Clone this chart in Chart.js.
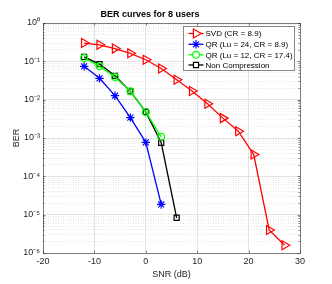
<!DOCTYPE html>
<html>
<head>
<meta charset="utf-8">
<script src="https://cdn.jsdelivr.net/npm/chart.js@4.4.1/dist/chart.umd.min.js"></script>
<style>
  html, body { margin: 0; padding: 0; background: #fff; }
  #wrap { width: 332px; height: 284px; }
</style>
</head>
<body>
<div id="wrap"><canvas id="c" width="332" height="284"></canvas></div>
<script>
// ---- data ----
const snrSVD  = [-12, -9, -6, -3, 0, 3, 6, 9, 12, 15, 18, 21, 24, 27];
const berSVD  = [0.30, 0.27, 0.215, 0.162, 0.11, 0.065, 0.033, 0.0168, 0.0078, 0.0033, 0.0015, 3.7e-4, 4.0e-6, 1.6e-6];
const snrQR24 = [-12, -9, -6, -3, 0, 3];
const berQR24 = [0.074, 0.036, 0.0127, 0.0034, 7.7e-4, 1.85e-5];
const snrQR12 = [-12, -9, -6, -3, 0, 3];
const berQR12 = [0.122, 0.074, 0.039, 0.0165, 0.0048, 1.07e-3];
const snrNC   = [-12, -9, -6, -3, 0, 3, 6];
const berNC   = [0.13, 0.085, 0.042, 0.0165, 0.0048, 7.5e-4, 8.3e-6];

const seriesLabels = ['SVD (CR = 8.9)', 'QR (Lu = 24, CR = 8.9)', 'QR (Lu = 12, CR = 17.4)', 'Non Compression'];
const xTicks = [-20, -10, 0, 10, 20, 30];
const yMajorTicks = [1e-6, 1e-5, 1e-4, 1e-3, 1e-2, 1e-1, 1];
const yTickLabels = ['10\u207B\u2076', '10\u207B\u2075', '10\u207B\u2074', '10\u207B\u00B3', '10\u207B\u00B2', '10\u207B\u00B9', '10\u2070'];

const FONT = "'Liberation Sans', Arial, Helvetica, sans-serif";
const AX = '#262626';

function pts(xs, ys) { return xs.map((x, i) => ({x: x, y: ys[i]})); }

const datasets = [
  {label: seriesLabels[0], data: pts(snrSVD, berSVD), borderColor: '#ff0000', pointStyle: 'triangle', pointRotation: 90, pointRadius: 5.2},
  {label: seriesLabels[1], data: pts(snrQR24, berQR24), borderColor: '#0000ff', pointStyle: 'star', pointRotation: 0, pointRadius: 4.2},
  {label: seriesLabels[2], data: pts(snrQR12, berQR12), borderColor: '#00ff00', pointStyle: 'circle', pointRotation: 0, pointRadius: 3.4},
  {label: seriesLabels[3], data: pts(snrNC, berNC), borderColor: '#000000', pointStyle: 'rect', pointRotation: 0, pointRadius: 3.6}
].map(d => Object.assign(d, {
  showLine: true, borderWidth: 1.3, pointBorderColor: d.borderColor, pointBackgroundColor: 'rgba(255,255,255,0)',
  pointBorderWidth: 1.2, pointHoverRadius: d.pointRadius, tension: 0, fill: false
}));

function isMajorVal(v) {
  const l = Math.log10(v);
  return Math.abs(l - Math.round(l)) < 1e-9;
}

const boxPlugin = {
  id: 'matlabBox',
  afterDatasetsDraw(chart) {
    const ctx = chart.ctx, a = chart.chartArea;
    const xs = chart.scales.x, ys = chart.scales.y;
    ctx.save();
    ctx.strokeStyle = AX;
    ctx.lineWidth = 1;
    ctx.globalAlpha = 0.55;
    // box
    ctx.strokeRect(Math.round(a.left) + 0.5, Math.round(a.top) + 0.5, Math.round(a.right) - Math.round(a.left), Math.round(a.bottom) - Math.round(a.top));
    // ticks inside
    ctx.beginPath();
    xTicks.forEach(v => {
      const px = Math.round(xs.getPixelForValue(v)) + 0.5;
      ctx.moveTo(px, a.bottom); ctx.lineTo(px, a.bottom - 2.5);
      ctx.moveTo(px, a.top); ctx.lineTo(px, a.top + 2.5);
    });
    ys.ticks.forEach(t => {
      const py = Math.round(ys.getPixelForValue(t.value)) + 0.5;
      const len = isMajorVal(t.value) ? 2.5 : 1.5;
      ctx.moveTo(a.left, py); ctx.lineTo(a.left + len, py);
      ctx.moveTo(a.right, py); ctx.lineTo(a.right - len, py);
    });
    ctx.stroke();
    ctx.globalAlpha = 1;

    // legend
    const lx = 183.5, ly = 26.5, lw = 111, lh = 44;
    ctx.fillStyle = '#ffffff';
    ctx.fillRect(lx, ly, lw, lh);
    ctx.strokeStyle = '#262626';
    ctx.globalAlpha = 0.55;
    ctx.strokeRect(lx, ly, lw, lh);
    ctx.globalAlpha = 1;
    const rows = [33.5, 44.3, 54.8, 65];
    ctx.font = '8px ' + FONT;
    ctx.textBaseline = 'middle';
    ctx.textAlign = 'left';
    chart.data.datasets.forEach((d, i) => {
      const y = rows[i];
      ctx.strokeStyle = d.borderColor;
      ctx.lineWidth = 1.3;
      ctx.beginPath(); ctx.moveTo(188.5, y); ctx.lineTo(203.5, y); ctx.stroke();
      ctx.lineWidth = 1.2;
      ctx.fillStyle = '#ffffff';
      Chart.helpers.drawPoint(ctx, {pointStyle: d.pointStyle, rotation: d.pointRotation, radius: d.pointRadius, borderWidth: 1.2}, 196, y);
      ctx.fillStyle = '#000';
      ctx.fillText(d.label, 205.5, y + 0.5);
    });
    ctx.restore();
  }
};

new Chart(document.getElementById('c'), {
  type: 'scatter',
  data: {datasets},
  options: {
    responsive: false,
    animation: false,
    devicePixelRatio: 1,
    layout: {padding: {top: 0, right: 32, bottom: 0, left: 0}},
    plugins: {
      legend: {display: false},
      tooltip: {enabled: false},
      title: {
        display: true, text: 'BER curves for 8 users', color: '#000',
        font: {family: FONT, size: 9, weight: 'bold'},
        padding: {top: 9.6, bottom: 2.6}
      }
    },
    scales: {
      x: {
        type: 'linear', min: -20, max: 30,
        afterBuildTicks: s => { s.ticks = xTicks.map(v => ({value: v})); },
        afterFit: s => { s.height = 31; },
        ticks: {color: AX, padding: 3, font: {family: FONT, size: 9}, callback: v => String(v), maxRotation: 0, autoSkip: false},
        grid: {color: '#e3e3e3', lineWidth: 1, drawTicks: false},
        border: {display: false},
        title: {display: true, text: 'SNR (dB)', color: AX, font: {family: FONT, size: 9}, padding: {top: 0, bottom: 3.6}}
      },
      y: {
        type: 'logarithmic', min: 1e-6, max: 1,
        afterBuildTicks: s => {
          const t = [];
          yMajorTicks.forEach((m, i) => {
            t.push({value: m});
            if (i < yMajorTicks.length - 1) for (let k = 2; k <= 9; k++) t.push({value: m * k});
          });
          s.ticks = t;
        },
        afterFit: s => { s.width = 43; },
        ticks: {
          color: AX, padding: 3, font: {family: FONT, size: 9}, autoSkip: false,
          callback: (v) => { const i = yMajorTicks.findIndex(m => Math.abs(Math.log10(m) - Math.log10(v)) < 1e-9); return i >= 0 ? yTickLabels[i] : ''; }
        },
        grid: {
          drawTicks: false, lineWidth: 1,
          color: c => (c.tick && isMajorVal(c.tick.value)) ? '#e3e3e3' : '#e6e6e6'
        },
        border: {display: false, dash: c => (c.tick && isMajorVal(c.tick.value)) ? [] : [1, 1.5]},
        title: {display: true, text: 'BER', color: AX, font: {family: FONT, size: 9}, padding: {top: 11.6, bottom: 0}}
      }
    }
  },
  plugins: [boxPlugin]
});
</script>
</body>
</html>
